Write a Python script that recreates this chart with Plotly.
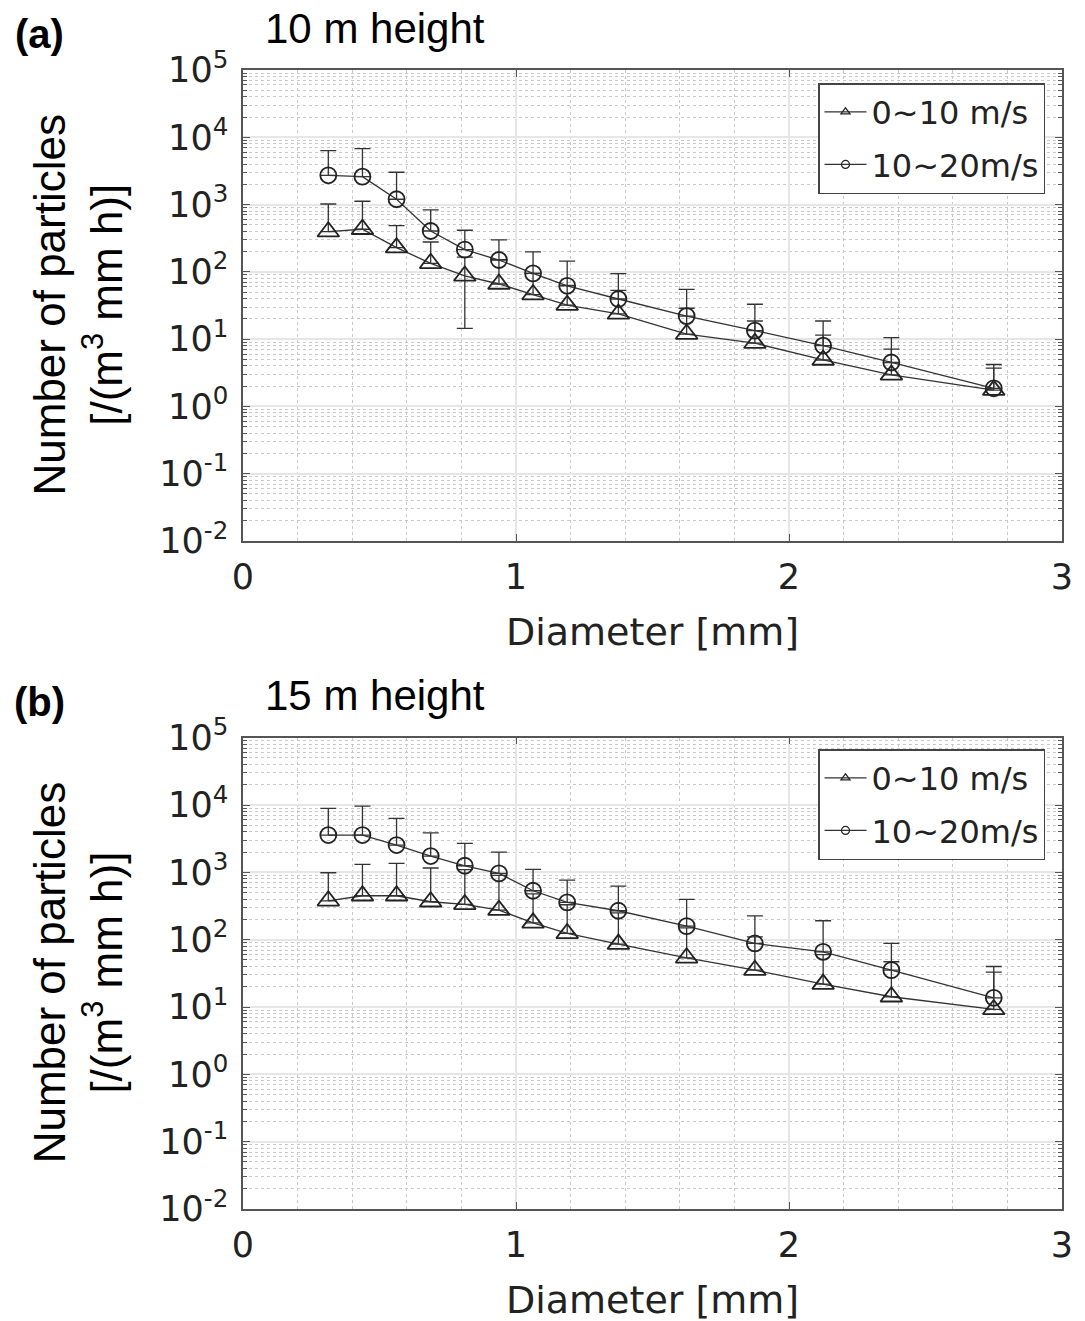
import plotly.graph_objects as go

W, H = 1085, 1321

# ---------------- data ----------------
diameter = [0.3125, 0.4375, 0.5625, 0.6875, 0.8125, 0.9375, 1.0625, 1.1875,
            1.375, 1.625, 1.875, 2.125, 2.375, 2.75]

# (a) 10 m height
a_low = [395, 430, 229, 134, 87, 66, 46, 32, 23.7, 11.9, 8.7, 4.9, 2.94, 1.75]
a_low_upper = [1020, 1120, 486, 278, 165, 152, 95, 63, 53, 28.8, 18.6, 11.5, 7.1, 3.7]
a_low_lower = [None, None, None, None, 14.5, None, None, None, None, None, None, None, None, None]
a_high = [2720, 2600, 1200, 405, 214, 150, 95, 62, 39.5, 22, 13.4, 8.0, 4.5, 1.86]
a_high_upper = [6320, 6770, 3020, 832, 415, 298, 198, 144, 94, 55, 33, 18.6, 10.5, 4.2]
a_high_lower = [None] * 14

# (b) 15 m height
b_low = [378, 449, 449, 366, 334, 275, 178, 124, 86, 53.8, 35.3, 21.9, 14.2, 9.2]
b_low_upper = [986, 1315, 1360, 1160, 1100, 900, 480, 330, 250, 150, 110, 60, 47, 33]
b_low_lower = [None] * 14
b_high = [3580, 3580, 2545, 1746, 1253, 966, 533, 358, 269, 159, 88, 66, 35.3, 13.7]
b_high_upper = [8930, 9660, 6340, 3870, 2700, 2000, 1108, 769, 626, 397, 226, 191, 88, 40]
b_high_lower = [None] * 14

series_names = ["0~10 m/s", "10~20m/s"]
panel_labels = ["(a)", "(b)"]
panel_titles = ["10 m height", "15 m height"]
y_exponents = [-2, -1, 0, 1, 2, 3, 4, 5]
x_ticks = [0, 1, 2, 3]

# ---------------- layout helpers ----------------
def px(x):
    return x / W

def py(y):
    return 1 - y / H

plot_left, plot_right = 243, 1062
panels = [
    dict(top=70, bottom=541),
    dict(top=737.7, bottom=1209),
]

INK = "#222222"
TICKFONT = dict(family="DejaVu Sans", size=35, color=INK)

fig = go.Figure()

def err(vals, upper, lower):
    plus = [u - v for u, v in zip(upper, vals)]
    minus = [(v - l) if l is not None else 0 for v, l in zip(vals, lower)]
    return plus, minus

data_sets = [
    [(a_low, a_low_upper, a_low_lower), (a_high, a_high_upper, a_high_lower)],
    [(b_low, b_low_upper, b_low_lower), (b_high, b_high_upper, b_high_lower)],
]
symbols = ["triangle-up-open", "circle-open"]
sizes = [19, 16]

for p, sets in enumerate(data_sets):
    xa = "x" if p == 0 else "x2"
    ya = "y" if p == 0 else "y2"
    lg = "legend" if p == 0 else "legend2"
    for s, (vals, up, lo) in enumerate(sets):
        plus, minus = err(vals, up, lo)
        fig.add_trace(go.Scatter(
            x=diameter, y=vals, mode="lines+markers",
            xaxis=xa, yaxis=ya, showlegend=False,
            line=dict(color="#333333", width=1.3),
            marker=dict(symbol=symbols[s], size=sizes[s], color=INK,
                        line=dict(width=1.8, color=INK)),
            error_y=dict(type="data", symmetric=False, array=plus, arrayminus=minus,
                         color="#333333", thickness=1.3, width=8),
        ))
    for s in range(2):
        fig.add_trace(go.Scatter(
            x=[None], y=[None], mode="lines+markers", name=series_names[s],
            xaxis=xa, yaxis=ya, legend=lg, legendgroup=f"{p}{s}",
            line=dict(color="#333333", width=1.3),
            marker=dict(symbol=symbols[s], size=8, color=INK,
                        line=dict(width=1.2, color=INK)),
        ))

axis_common = dict(
    showline=True, linecolor="#555555", linewidth=1.5, mirror="ticks",
    ticks="inside", tickcolor="#555555", ticklen=7, tickwidth=1,
    tickfont=TICKFONT, showgrid=True, gridcolor="#e6e6e6", gridwidth=1.5,
    zeroline=False, automargin=False,
)

ticktext = ["10<sup>%d</sup>" % e for e in y_exponents]
tickvals = [10 ** e for e in y_exponents]

for p, pan in enumerate(panels):
    sfx = "" if p == 0 else "2"
    fig.update_layout(**{
        "xaxis" + sfx: dict(
            axis_common, domain=[px(plot_left), px(plot_right)], range=[0, 3],
            tickvals=x_ticks, ticktext=[str(t) for t in x_ticks],
            anchor="y" + sfx, ticklabelstandoff=4,
            minor=dict(dtick=0.2, showgrid=True, gridcolor="#c8c8c8",
                       griddash="dot", gridwidth=1, ticks=""),
        ),
        "yaxis" + sfx: dict(
            axis_common, type="log", domain=[py(pan["bottom"]), py(pan["top"])],
            range=[-2, 5], tickvals=tickvals, ticktext=ticktext,
            anchor="x" + sfx, ticklabelstandoff=6,
            minor=dict(dtick="D1", showgrid=True, gridcolor="#c8c8c8",
                       griddash="dot", gridwidth=1, ticks="inside",
                       ticklen=4, tickcolor="#555555"),
        ),
    })

legend_common = dict(
    bgcolor="white", bordercolor="#444444", borderwidth=1.5,
    font=dict(family="DejaVu Sans", size=32, color=INK),
    xanchor="left", yanchor="top", itemwidth=42, tracegroupgap=8,
)
fig.update_layout(
    legend=dict(legend_common, x=px(818), y=py(83)),
    legend2=dict(legend_common, x=px(818), y=py(749)),
)

annotations = []
for p, pan in enumerate(panels):
    top, bottom = pan["top"], pan["bottom"]
    annotations.append(dict(
        text="<b>%s</b>" % panel_labels[p], x=px(39), y=py(top - 36),
        xref="paper", yref="paper", showarrow=False, xanchor="center", yanchor="middle",
        font=dict(family="Liberation Sans", size=40, color="black")))
    annotations.append(dict(
        text=panel_titles[p], x=px(263), y=py(top - 42),
        xref="paper", yref="paper", showarrow=False, xanchor="left", yanchor="middle",
        font=dict(family="Liberation Sans", size=42, color="black")))
    annotations.append(dict(
        text="Diameter [mm]", x=px((plot_left + plot_right) / 2), y=py(bottom + 91),
        xref="paper", yref="paper", showarrow=False, xanchor="center", yanchor="middle",
        font=dict(family="DejaVu Sans", size=38, color=INK)))
    annotations.append(dict(
        text="Number of particles<br>[/(m<sup>3</sup> mm h)]",
        x=px(78), y=py((top + bottom) / 2), textangle=-90,
        xref="paper", yref="paper", showarrow=False, xanchor="center", yanchor="middle",
        font=dict(family="Liberation Sans", size=44, color="black")))

fig.update_layout(
    width=W, height=H, margin=dict(l=0, r=0, t=0, b=0),
    paper_bgcolor="white", plot_bgcolor="white",
    annotations=annotations,
)

fig.write_html("out.html")
